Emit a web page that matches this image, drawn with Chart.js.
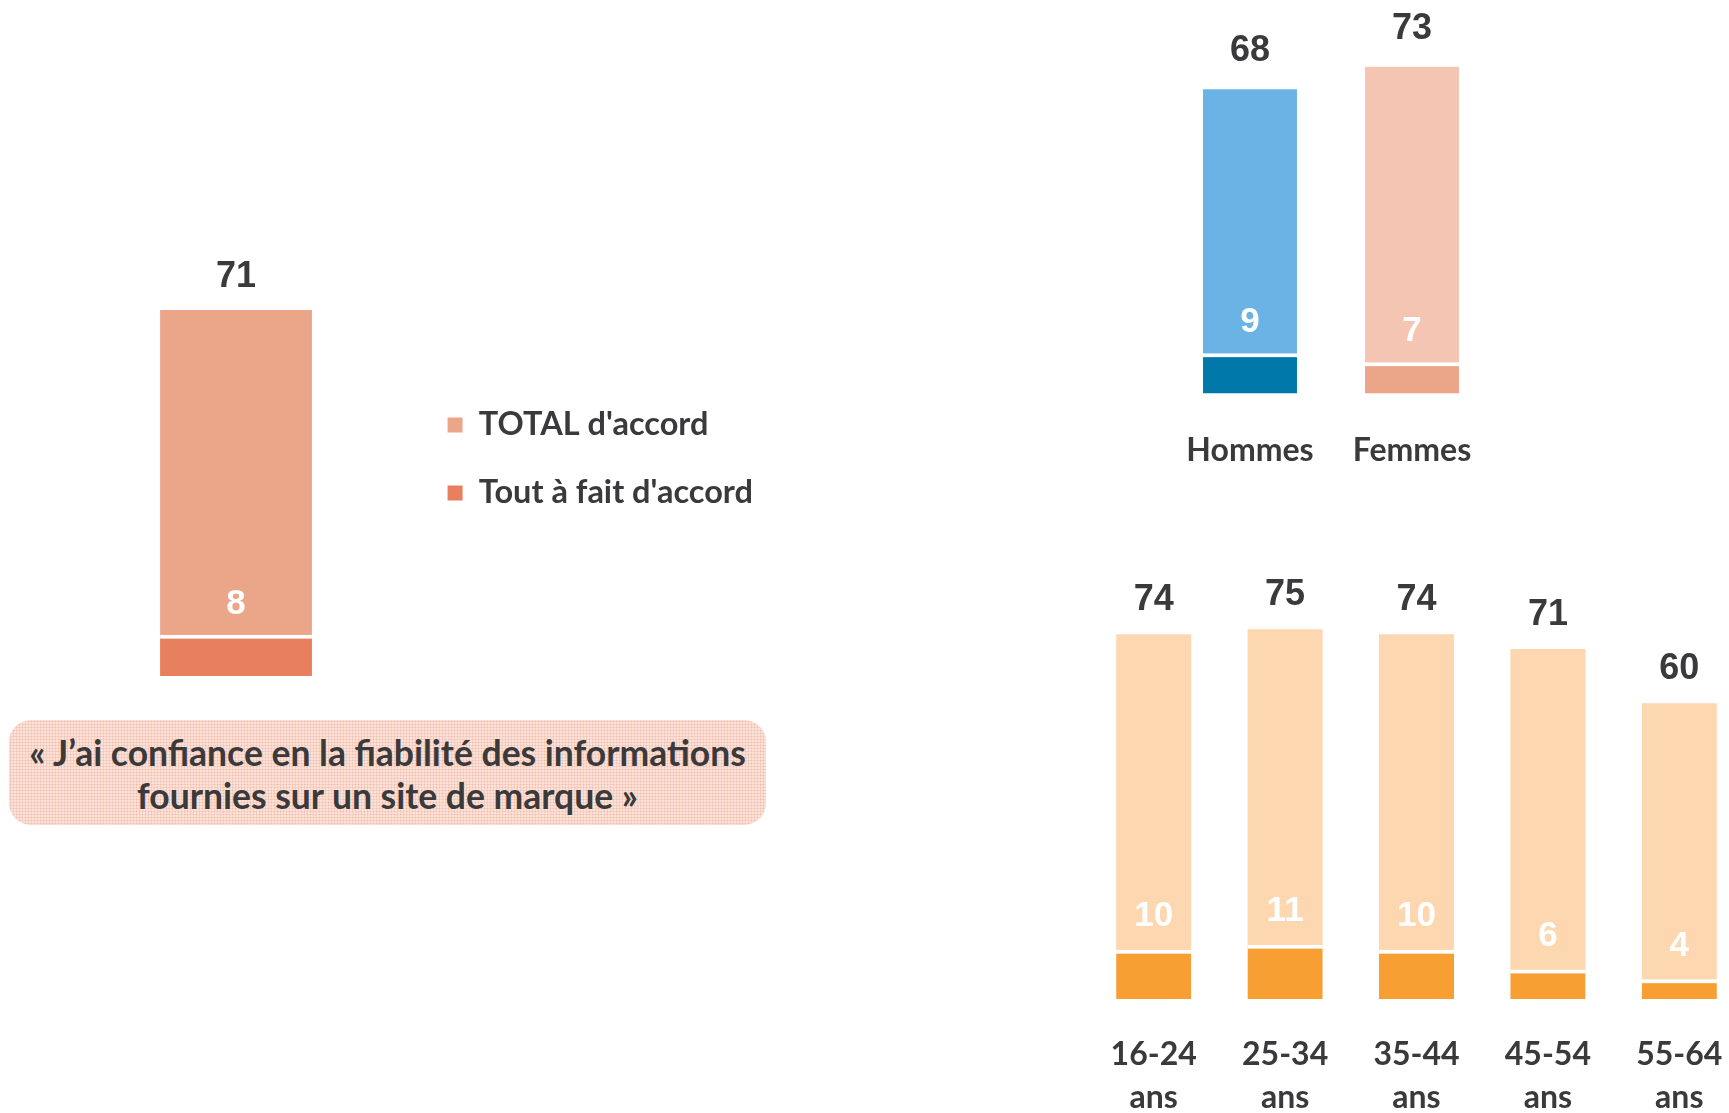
<!DOCTYPE html>
<html lang="fr">
<head>
<meta charset="utf-8">
<script src="https://cdn.jsdelivr.net/npm/chart.js@4.4.1/dist/chart.umd.min.js"></script>
<style>
  html, body { margin: 0; padding: 0; background: #fff; overflow: hidden; }
  body { width: 1729px; height: 1113px; position: relative; }
  canvas { position: absolute; }
  #mainChart { left: 0; top: 0; }
  #genreChart { left: 1100px; top: 0; }
  #ageChart { left: 1000px; top: 540px; }
  #caption {
    position: absolute; left: 9px; top: 720px; width: 757px; height: 105px;
    box-sizing: border-box; padding-top: 11px;
    border-radius: 22px;
    background-color: #fbe1d8;
    background-image: radial-gradient(#f2bfae 0.9px, transparent 1.1px);
    background-size: 3px 3px;
    font-family: Lato, "Open Sans", sans-serif; font-weight: bold;
    font-size: 35.5px; line-height: 43px; text-align: center; color: #3a3a3c;
    white-space: nowrap;
  }
</style>
</head>
<body>
<canvas id="mainChart" height="700"></canvas>
<canvas id="genreChart" width="420" height="508"></canvas>
<canvas id="ageChart" width="760" height="614"></canvas>
<div id="caption">« J’ai confiance en la fiabilité des informations<br>fournies sur un site de marque »</div>
<script>
// données
const seriesNames = ["TOTAL d'accord", "Tout à fait d'accord"];
const mainLabels = ["Ensemble"];
const mainTotal = [71];
const mainTout = [8];

const genreLabels = ["Hommes", "Femmes"];
const genreTotal = [68, 73];
const genreTout = [9, 7];

const ageLabels = [["16-24", "ans"], ["25-34", "ans"], ["35-44", "ans"], ["45-54", "ans"], ["55-64", "ans"]];
const ageTotal = [74, 75, 74, 71, 60];
const ageTout = [10, 11, 10, 6, 4];

const textDark = '#3a3a3c';
const labelFont = { family: 'Lato, "Open Sans", sans-serif', weight: 'bold', size: 32 };
const legendFont = { family: 'Lato, "Open Sans", sans-serif', weight: 'bold', size: 32.5 };
const numFont = "'Liberation Sans', Arial, sans-serif";

// valeurs au-dessus des barres (total) et dans la barre claire (tout à fait)
const barValues = {
    id: 'barValues',
    afterDatasetsDraw(chart, args, opts) {
        const ctx = chart.ctx;
        ctx.save();
        ctx.textAlign = 'center';
        ctx.textBaseline = 'middle';
        chart.data.datasets.forEach((ds, di) => {
            const meta = chart.getDatasetMeta(di);
            const inner = ds.inner;
            ctx.font = inner ? opts.innerFont : opts.topFont;
            ctx.fillStyle = inner ? '#ffffff' : textDark;
            const off = inner ? opts.innerOffset : opts.topOffset;
            meta.data.forEach((bar, i) => {
                ctx.fillText(ds.data[i], bar.x, bar.y - off);
            });
        });
        ctx.restore();
    }
};

function darkBar(data, color) {
    return {
        data: data, inner: true, grouped: false,
        backgroundColor: color,
        borderColor: '#ffffff',
        borderWidth: { top: 4, left: 0, right: 0, bottom: 0 },
        borderSkipped: false
    };
}

function lightBar(data, color) {
    return { data: data, grouped: false, backgroundColor: color, borderWidth: 0 };
}

// graphique principal + légende
const mainCanvas = document.getElementById('mainChart');
const legendPad = 68 - legendFont.size;
const padLeft = 60, padRight = 150;
const legendLeft = 448 - legendPad;
const areaW = legendLeft - padLeft;
const mctx = document.createElement('canvas').getContext('2d');
mctx.font = `bold ${legendFont.size}px ${legendFont.family}`;
const textW = Math.max(...seriesNames.map(t => mctx.measureText(t).width));
const legendW = legendPad + 15 + legendFont.size / 2 + textW + 10;
mainCanvas.width = legendLeft + Math.min(legendW, areaW) + padRight;

const mainDark = darkBar(mainTout, '#e8805f');
mainDark.label = seriesNames[1];
const mainLight = lightBar(mainTotal, '#eba589');
mainLight.label = seriesNames[0];

new Chart(mainCanvas, {
    type: 'bar',
    data: { labels: mainLabels, datasets: [mainDark, mainLight] },
    options: {
        responsive: false,
        animation: false,
        layout: { padding: { left: padLeft, top: 242, bottom: 24, right: padRight } },
        scales: {
            x: { display: false },
            y: { display: false, min: 0, max: (676 - 242) / 5.155 }
        },
        datasets: { bar: { categoryPercentage: 1, barPercentage: 152 / areaW } },
        plugins: {
            tooltip: { enabled: false },
            legend: {
                position: 'right',
                reverse: true,
                labels: {
                    boxWidth: 15, boxHeight: 15, padding: legendPad,
                    color: textDark, font: legendFont,
                    generateLabels: (chart) => Chart.defaults.plugins.legend.labels.generateLabels(chart)
                        .map(l => Object.assign(l, { lineWidth: 0 }))
                }
            },
            barValues: {
                topFont: `bold 36px ${numFont}`, topOffset: 33,
                innerFont: `bold 35px ${numFont}`, innerOffset: 30
            }
        }
    },
    plugins: [barValues]
});

// par sexe
new Chart(document.getElementById('genreChart'), {
    type: 'bar',
    data: {
        labels: genreLabels,
        datasets: [
            darkBar(genreTout, ['#0079aa', '#eba589']),
            lightBar(genreTotal, ['#69b4e4', '#f4c5b2'])
        ]
    },
    options: {
        responsive: false,
        animation: false,
        layout: { padding: { left: 69, right: 27, top: 20, bottom: 0 } },
        datasets: { bar: { categoryPercentage: 1, barPercentage: 0.58 } },
        scales: {
            x: {
                grid: { display: false, drawTicks: false, tickLength: 0 },
                border: { display: false },
                ticks: { color: textDark, font: labelFont, padding: 38 }
            },
            y: { display: false, min: 0, max: 373 / 4.47 }
        },
        plugins: {
            legend: { display: false },
            tooltip: { enabled: false },
            barValues: {
                topFont: `bold 36px ${numFont}`, topOffset: 38,
                innerFont: `bold 35px ${numFont}`, innerOffset: 31
            }
        }
    },
    plugins: [barValues]
});

// par âge
new Chart(document.getElementById('ageChart'), {
    type: 'bar',
    data: {
        labels: ageLabels,
        datasets: [
            darkBar(ageTout, '#f89f33'),
            lightBar(ageTotal, '#fdd7b0')
        ]
    },
    options: {
        responsive: false,
        animation: false,
        layout: { padding: { left: 88, right: 15, top: 0, bottom: 0 } },
        datasets: { bar: { categoryPercentage: 1, barPercentage: 0.571 } },
        scales: {
            x: {
                grid: { display: false, drawTicks: false, tickLength: 0 },
                border: { display: false },
                ticks: {
                    color: textDark, padding: 34.5,
                    font: Object.assign({}, labelFont, { lineHeight: 43 / 32 })
                }
            },
            y: { display: false, min: 0, max: 459 / 4.93 }
        },
        plugins: {
            legend: { display: false },
            tooltip: { enabled: false },
            barValues: {
                topFont: `bold 36px ${numFont}`, topOffset: 34,
                innerFont: `bold 35px ${numFont}`, innerOffset: 33
            }
        }
    },
    plugins: [barValues]
});
</script>
</body>
</html>
